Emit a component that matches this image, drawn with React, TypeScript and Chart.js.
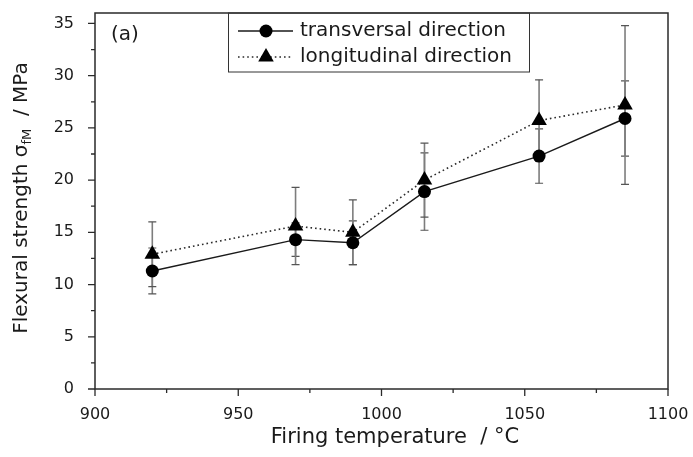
import React, { useEffect, useRef } from 'react';
import { Chart, registerables } from 'chart.js';

Chart.register(...registerables);

// ---- data ----
const temperatures = [920, 970, 990, 1015, 1055, 1085];
const transversal = [11.3, 14.3, 14.0, 18.9, 22.3, 25.9];
const transversalErr = [2.2, 1.6, 2.1, 3.7, 2.6, 3.6];
const longitudinal = [12.9, 15.6, 15.0, 20.0, 25.7, 27.2];
const longitudinalErr = [3.1, 3.7, 3.1, 3.55, 3.9, 7.6];
const xTicks = [900, 950, 1000, 1050, 1100];
const yTicks = [0, 5, 10, 15, 20, 25, 30, 35];
const seriesLabels = ['transversal direction', 'longitudinal direction'];
const panelLabel = '(a)';
const xTitle = 'Firing temperature  / °C';
const yTitleMain = 'Flexural strength σ';
const yTitleSub = 'fM';
const yTitleUnit = '  / MPa';

const FONT = '"DejaVu Sans", "Liberation Sans", sans-serif';

const decorPlugin = {
  id: 'decor',
  beforeDatasetsDraw(chart: any) {
    const ctx = chart.ctx;
    const xs = chart.scales.x;
    const ys = chart.scales.y;
    ctx.save();
    chart.data.datasets.forEach((ds: any) => {
      const errs: number[] = ds.errors || [];
      ds.data.forEach((p: any, i: number) => {
        const e = errs[i];
        if (e == null) return;
        const x = xs.getPixelForValue(p.x);
        const yT = ys.getPixelForValue(p.y + e);
        const yB = ys.getPixelForValue(p.y - e);
        ctx.strokeStyle = '#7d7d7d';
        ctx.lineWidth = 1.6;
        ctx.beginPath();
        ctx.moveTo(x, yT);
        ctx.lineTo(x, yB);
        ctx.stroke();
        ctx.strokeStyle = '#555';
        ctx.lineWidth = 1.2;
        ctx.beginPath();
        ctx.moveTo(x - 4, yT);
        ctx.lineTo(x + 4, yT);
        ctx.moveTo(x - 4, yB);
        ctx.lineTo(x + 4, yB);
        ctx.stroke();
      });
    });
    ctx.restore();
  },
  afterDraw(chart: any) {
    const ctx = chart.ctx;
    const { left, right, top, bottom } = chart.chartArea;
    const xs = chart.scales.x;
    const ys = chart.scales.y;
    ctx.save();
    // frame
    ctx.strokeStyle = '#2a2a2a';
    ctx.lineWidth = 1.5;
    ctx.strokeRect(left, top, right - left, bottom - top);
    // ticks
    ctx.lineWidth = 1.3;
    ctx.beginPath();
    xTicks.forEach((v, i) => {
      const px = xs.getPixelForValue(v);
      ctx.moveTo(px, bottom);
      ctx.lineTo(px, bottom + 7);
      if (i < xTicks.length - 1) {
        const mx = xs.getPixelForValue((v + xTicks[i + 1]) / 2);
        ctx.moveTo(mx, bottom);
        ctx.lineTo(mx, bottom + 4);
      }
    });
    yTicks.forEach((v, i) => {
      const py = ys.getPixelForValue(v);
      ctx.moveTo(left, py);
      ctx.lineTo(left - 7, py);
      if (i < yTicks.length - 1) {
        const my = ys.getPixelForValue((v + yTicks[i + 1]) / 2);
        ctx.moveTo(left, my);
        ctx.lineTo(left - 4, my);
      }
    });
    ctx.stroke();

    ctx.fillStyle = '#1a1a1a';
    // x title
    ctx.font = `21px ${FONT}`;
    ctx.textAlign = 'center';
    ctx.textBaseline = 'middle';
    ctx.fillText(xTitle, 395, 438);

    // y title with subscript
    ctx.save();
    ctx.translate(22, 198);
    ctx.rotate(-Math.PI / 2);
    ctx.textAlign = 'left';
    ctx.textBaseline = 'middle';
    ctx.font = `20px ${FONT}`;
    const w1 = ctx.measureText(yTitleMain).width;
    const w3 = ctx.measureText(yTitleUnit).width;
    ctx.font = `13px ${FONT}`;
    const w2 = ctx.measureText(yTitleSub).width;
    const total = w1 + w2 + w3;
    let sx = -total / 2;
    ctx.font = `20px ${FONT}`;
    ctx.fillText(yTitleMain, sx, 0);
    sx += w1;
    ctx.font = `13px ${FONT}`;
    ctx.fillText(yTitleSub, sx, 6);
    sx += w2;
    ctx.font = `20px ${FONT}`;
    ctx.fillText(yTitleUnit, sx, 0);
    ctx.restore();

    // panel label
    ctx.font = `20px ${FONT}`;
    ctx.textAlign = 'left';
    ctx.textBaseline = 'middle';
    ctx.fillText(panelLabel, 111, 35);

    // legend
    ctx.strokeStyle = '#333';
    ctx.lineWidth = 1;
    ctx.strokeRect(228.5, 13, 301, 59);
    chart.data.datasets.forEach((ds: any, i: number) => {
      const ry = 31 + i * 26;
      ctx.save();
      ctx.strokeStyle = ds.borderColor;
      ctx.lineWidth = ds.borderWidth;
      ctx.setLineDash(ds.borderDash || []);
      ctx.beginPath();
      ctx.moveTo(238, ry);
      ctx.lineTo(293, ry);
      ctx.stroke();
      ctx.restore();
      ctx.fillStyle = '#000';
      const cx = 266;
      const r = ds.pointRadius;
      ctx.beginPath();
      if (ds.pointStyle === 'triangle') {
        ctx.moveTo(cx, ry - r);
        ctx.lineTo(cx + r * Math.cos(Math.PI / 6), ry + r / 2);
        ctx.lineTo(cx - r * Math.cos(Math.PI / 6), ry + r / 2);
        ctx.closePath();
      } else {
        ctx.arc(cx, ry, r, 0, Math.PI * 2);
      }
      ctx.fill();
      ctx.fillStyle = '#1a1a1a';
      ctx.font = `20px ${FONT}`;
      ctx.textAlign = 'left';
      ctx.textBaseline = 'middle';
      ctx.fillText(ds.label, 300, ry);
    });
    ctx.restore();
  },
};

export default function App() {
  const ref = useRef<HTMLCanvasElement | null>(null);
  useEffect(() => {
    if (!ref.current) return;
    const chart = new Chart(ref.current, {
      type: 'line',
      data: {
        datasets: [
          {
            label: seriesLabels[0],
            data: temperatures.map((t, i) => ({ x: t, y: transversal[i] })),
            borderColor: '#1a1a1a',
            borderWidth: 1.4,
            pointStyle: 'circle',
            pointRadius: 6.5,
            pointBackgroundColor: '#000',
            pointBorderColor: '#000',
            pointBorderWidth: 0,
            fill: false,
            tension: 0,
            errors: transversalErr,
          } as any,
          {
            label: seriesLabels[1],
            data: temperatures.map((t, i) => ({ x: t, y: longitudinal[i] })),
            borderColor: '#2a2a2a',
            borderWidth: 1.6,
            borderDash: [1.6, 3],
            pointStyle: 'triangle',
            pointRadius: 9,
            pointBackgroundColor: '#000',
            pointBorderColor: '#000',
            pointBorderWidth: 0,
            fill: false,
            tension: 0,
            errors: longitudinalErr,
          } as any,
        ],
      },
      options: {
        responsive: false,
        animation: false,
        layout: { padding: { top: 13, right: 25, left: 0, bottom: 0 } },
        plugins: { legend: { display: false }, tooltip: { enabled: false } },
        scales: {
          x: {
            type: 'linear',
            min: 900,
            max: 1100,
            grid: { display: false },
            border: { display: false },
            afterBuildTicks: (s: any) => {
              s.ticks = xTicks.map((v) => ({ value: v }));
            },
            afterFit: (s: any) => {
              s.height = 68;
              s.paddingLeft = 0;
              s.paddingRight = 0;
            },
            ticks: {
              font: { family: FONT, size: 16 },
              color: '#1a1a1a',
              padding: 8,
              maxRotation: 0,
              autoSkip: false,
              callback: (v: any) => String(v),
            },
          },
          y: {
            type: 'linear',
            min: 0,
            max: 36,
            grid: { display: false },
            border: { display: false },
            afterBuildTicks: (s: any) => {
              s.ticks = yTicks.map((v) => ({ value: v }));
            },
            afterFit: (s: any) => {
              s.width = 95;
              s.paddingTop = 0;
              s.paddingBottom = 0;
            },
            ticks: {
              font: { family: FONT, size: 16 },
              color: '#1a1a1a',
              padding: 13,
              autoSkip: false,
              callback: (v: any) => String(v),
            },
          },
        },
      },
      plugins: [decorPlugin],
    });
    return () => chart.destroy();
  }, []);
  return (
    <div style={{ position: 'absolute', left: 0, top: 0, width: 693, height: 457, background: '#fff' }}>
      <canvas ref={ref} width={693} height={457} style={{ display: 'block' }} />
    </div>
  );
}
